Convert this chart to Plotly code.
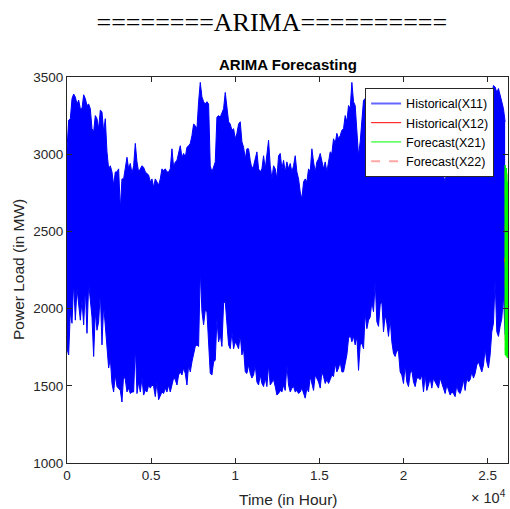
import plotly.graph_objects as go

# Hourly power load, summarised as the daily-peak (upper) and daily-trough (lower)
# envelope sampled every 99 hours.
SAMPLE_STEP_H = 99

load_upper = [
    3035, 3220, 3230, 3360, 3390, 3370, 3325, 3350, 3295, 3295,
    3385, 3360, 3315, 3325, 3295, 3165, 3145, 3250, 3230, 3165,
    3285, 3275, 3145, 3230, 3015, 2905, 2925, 2885, 2800, 2885,
    2885, 2905, 2645, 2840, 2840, 2915, 2980, 2905, 2940, 2875,
    2925, 3070, 2950, 2885, 2905, 2925, 2915, 2885, 2875, 2865,
    2820, 2840, 2785, 2840, 2820, 2800, 2840, 2905, 2895, 2905,
    2885, 2885, 2905, 3035, 2915, 2950, 2960, 3015, 3055, 2980,
    3005, 2980, 3045, 3055, 3070, 3120, 3195, 3185, 3165, 3340,
    3465, 3370, 3340, 3325, 3340, 3325, 2925, 2885, 2915, 2950,
    3240, 3250, 3240, 3275, 3295, 3400, 3305, 3210, 3195, 3155,
    3165, 3100, 3135, 3195, 3210, 3080, 3045, 2970, 3035, 3035,
    2960, 2905, 2925, 2970, 3015, 2905, 2885, 2905, 2990, 2905,
    3015, 3090, 2925, 2840, 2925, 2905, 2840, 2990, 3005, 2905,
    2960,
    2885, 2950, 2905, 2940, 2885, 2925, 2990, 2885, 2840, 2755,
    2710, 2820, 2840, 2820, 2905, 2885, 3035, 2950, 2885, 2950,
    2970, 3005, 2950, 2905, 2950, 2885, 2950, 3015, 3005, 3100,
    3070, 3135, 3100, 3120, 3155, 3165, 3250, 3210, 3315, 3295,
    3465, 3340, 3315, 3165, 2990, 3080, 3230, 3350, 3360, 3300,
    3250, 3320, 3200, 3280, 3150, 3230, 3100, 3180, 3050, 3120,
    3000, 3080, 2980, 3050, 2950, 3020, 2960, 3000, 2940, 2870,
    2920, 2880, 2940, 2960, 2900, 2950, 2880, 2930, 2960, 2900,
    2940, 2880, 2950, 2920, 2900, 2960, 2880, 2930, 2950, 2900,
    2960, 2920, 2880, 2940, 2900, 2850, 2820, 2900, 2940, 2880,
    2950, 2990, 2960, 3000, 2950, 2990, 2920, 2960, 2900, 3000,
    3020, 2980, 3050, 3020, 3080, 2960, 2890, 2900, 2850, 2960,
    3050, 3150, 3250, 3300, 3380, 3445, 3435, 3400, 3425, 3370,
    3340, 3295, 3210,
]

load_lower = [
    1740, 1700, 1980, 1905, 2175, 1925, 2130, 2000, 1925, 2055,
    1895, 2130, 1840, 2165, 2065, 1945, 1690, 1980, 1860, 1915,
    2110, 1765, 2025, 1895, 1755, 1615, 1680, 1515, 1460, 1570,
    1495, 1485, 1470, 1395, 1570, 1540, 1460, 1485, 1450, 1460,
    1460, 1755, 1450, 1525, 1460, 1550, 1440, 1470, 1460, 1505,
    1485, 1505, 1495, 1430, 1525, 1410, 1430, 1460, 1450, 1485,
    1460, 1505, 1460, 1505, 1550, 1540, 1505, 1570, 1590, 1570,
    1615, 1580, 1505, 1635, 1590, 1655, 1700, 1755, 1765, 1755,
    2250, 1980, 1895, 1990, 1980, 1785, 1580, 1570, 1655, 1665,
    1935, 1785, 1830, 1755, 2035, 2045, 1895, 1765, 1740, 1850,
    1740, 1785, 1765, 1740, 1830, 1700, 1740, 1590, 1580, 1635,
    1580, 1550, 1570, 1635, 1525, 1505, 1570, 1515, 1495, 1550,
    1495, 1635, 1505, 1525, 1540, 1495, 1440, 1450, 1470, 1460,
    1505,
    1470, 1635, 1505, 1460, 1485, 1495, 1460, 1470, 1450, 1460,
    1485, 1450, 1420, 1485, 1460, 1560, 1515, 1470, 1570, 1550,
    1525, 1485, 1590, 1560, 1515, 1540, 1515, 1540, 1570, 1560,
    1645, 1590, 1615, 1655, 1590, 1590, 1655, 1700, 1805, 1830,
    1785, 1820, 1765, 1820, 1600, 1765, 1775, 1740, 1970, 1870,
    1925, 1945, 2045, 1980, 2175, 1915, 1885, 2025, 2045, 1850,
    1960, 1905, 1820, 1935, 1785, 1710, 1690, 1730, 1720, 1590,
    1570, 1515, 1635, 1525, 1495, 1580, 1600, 1525, 1495, 1550,
    1550, 1540, 1570, 1460, 1570, 1470, 1505, 1550, 1485, 1550,
    1525, 1505, 1485, 1550, 1515, 1470, 1450, 1505, 1470, 1440,
    1460, 1450, 1430, 1505, 1460, 1450, 1485, 1540, 1470, 1550,
    1525, 1540, 1590, 1550, 1580, 1635, 1655, 1615, 1590, 1635,
    1740, 1655, 1615, 1700, 1850, 1905, 2185, 1850, 1820, 1885,
    1935, 2090, 1830,
]

hours = [i * SAMPLE_STEP_H for i in range(len(load_upper))]

# Last historical stretch (X12) and the one-week forecast (X21 / X22)
hist2_hours = [26000, 26020, 26040]
hist2_load = [2300, 2330, 2310]

fc_hours = [26040, 26052, 26064, 26076, 26088, 26100, 26112, 26124,
            26136, 26148, 26160, 26172, 26184, 26196, 26208]
fc_load = [2930, 1700, 2900, 1720, 2880, 1690, 2910, 1740,
           2870, 1710, 2850, 1680, 2820, 1730, 2800]
fc2_load = [2900, 1730, 2880, 1740, 2860, 1720, 2890, 1760,
            2850, 1730, 2830, 1700, 2800, 1750, 2780]

x_ticks = [0, 5000, 10000, 15000, 20000, 25000]
x_tick_text = ["0", "0.5", "1", "1.5", "2", "2.5"]
y_ticks = [1000, 1500, 2000, 2500, 3000, 3500]

INK = "#262626"
FONT = "Liberation Sans, Arial, sans-serif"

fig = go.Figure()

# Historical band: troughs, then peaks filled down to the troughs
fig.add_trace(go.Scatter(x=hours, y=load_lower, mode="lines",
                         line=dict(color="rgb(0,0,255)", width=1),
                         showlegend=False, hoverinfo="skip"))
fig.add_trace(go.Scatter(x=hours, y=load_upper, mode="lines", fill="tonexty",
                         fillcolor="rgb(0,0,255)",
                         line=dict(color="rgb(0,0,255)", width=1),
                         showlegend=False, hoverinfo="skip"))
fig.add_trace(go.Scatter(x=hist2_hours, y=hist2_load, mode="lines",
                         line=dict(color="red", width=1), showlegend=False))
fig.add_trace(go.Scatter(x=fc_hours, y=fc2_load, mode="lines",
                         line=dict(color="rgba(255,0,0,0.35)", width=2, dash="dash"),
                         showlegend=False))
fig.add_trace(go.Scatter(x=fc_hours, y=fc_load, mode="lines",
                         line=dict(color="rgb(0,255,0)", width=1.5),
                         showlegend=False))

# Legend entries
legend_items = [
    ("Historical(X11)", dict(color="rgba(0,0,255,0.6)", width=2)),
    ("Historical(X12)", dict(color="red", width=1)),
    ("Forecast(X21)", dict(color="rgb(0,255,0)", width=1)),
    ("Forecast(X22)", dict(color="rgba(255,0,0,0.35)", width=2, dash="dash")),
]
for name, ln in legend_items:
    fig.add_trace(go.Scatter(x=[None], y=[None], mode="lines", name=name, line=ln))

axis_common = dict(
    showline=True, linecolor=INK, linewidth=1, mirror="ticks",
    ticks="inside", ticklen=5, tickcolor=INK, tickwidth=1,
    showgrid=False, zeroline=False,
    tickfont=dict(family=FONT, size=13.5, color=INK),
)

plot_h = 509 - 77 - 46
plot_w = 510 - 67 - 2

fig.update_layout(
    width=510, height=509,
    margin=dict(l=67, r=2, t=77, b=46),
    paper_bgcolor="white", plot_bgcolor="white",
    font=dict(family=FONT, color=INK),
    title=dict(text="========ARIMA==========", x=0.533, xanchor="center",
               y=0.957, yanchor="middle",
               font=dict(family="Liberation Serif, Times New Roman, serif",
                         size=26, color="black")),
    xaxis=dict(range=[0, 26208], tickvals=x_ticks, ticktext=x_tick_text,
               **axis_common),
    yaxis=dict(range=[1000, 3500], tickvals=y_ticks, **axis_common),
    legend=dict(x=0.676, y=0.972, xanchor="left", yanchor="top",
                traceorder="normal",
                bgcolor="white", bordercolor=INK, borderwidth=1,
                font=dict(family=FONT, size=12.5, color="black"),
                tracegroupgap=0),
    showlegend=True,
    annotations=[
        dict(text="<b>ARIMA Forecasting</b>", x=0.5,
             y=1 + (77 - 65) / plot_h, yanchor="middle",
             xref="paper", yref="paper", showarrow=False,
             font=dict(family=FONT, size=15, color="black")),
        dict(text="Time (in Hour)", x=0.5, y=-(500 - 463) / plot_h,
             yanchor="middle", xref="paper", yref="paper", showarrow=False,
             font=dict(family=FONT, size=15.5, color=INK)),
        dict(text="Power Load (in MW)", x=-(67 - 18) / plot_w, xanchor="center",
             y=0.5, xref="paper", yref="paper", textangle=-90, showarrow=False,
             font=dict(family=FONT, size=15.5, color=INK)),
        dict(text="\u00d7 10<sup>4</sup>", x=1, xanchor="right",
             y=-(508 - 463) / plot_h, yanchor="bottom",
             xref="paper", yref="paper", showarrow=False,
             font=dict(family=FONT, size=14.5, color=INK)),
    ],
)

fig.write_html("out.html", config={"displayModeBar": False})
